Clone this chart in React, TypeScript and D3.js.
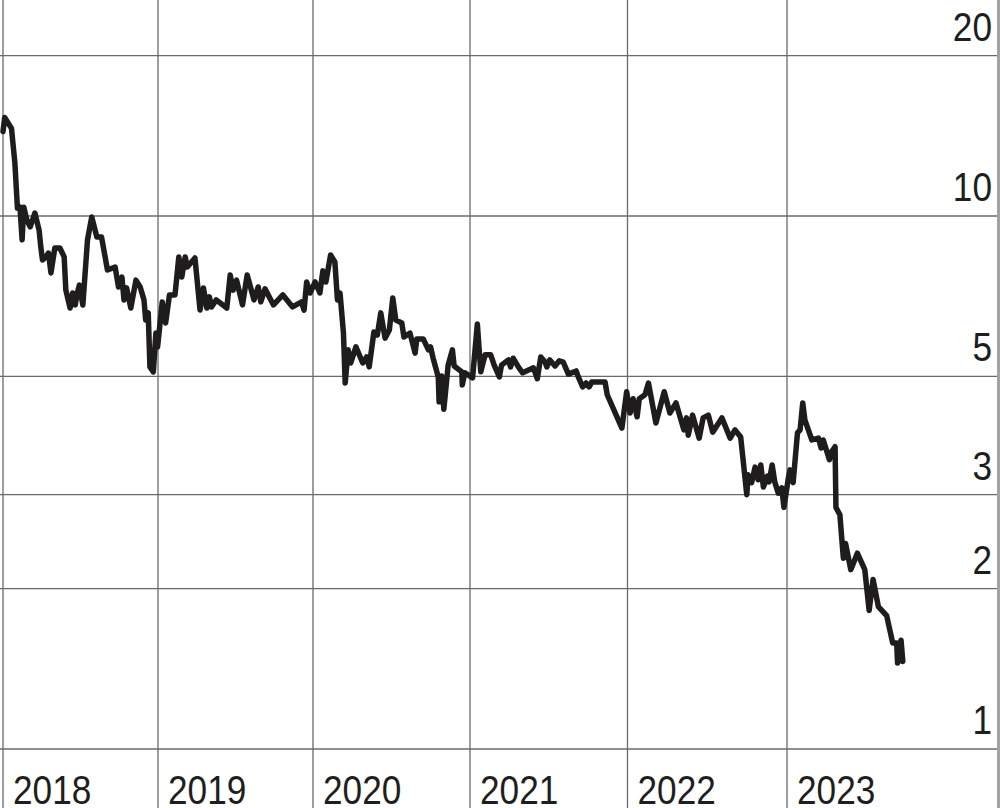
import React from 'react';
import * as d3 from 'd3';

const yearTicks = [2018, 2019, 2020, 2021, 2022, 2023, 2024];
const yearLabels = ['2018', '2019', '2020', '2021', '2022', '2023'];
const valueTicks = [1, 2, 3, 5, 10, 20];

const dates = [
  '2018-01-01','2018-01-05','2018-01-21','2018-01-29','2018-02-04','2018-02-10','2018-02-15','2018-02-19','2018-02-26','2018-03-06','2018-03-17','2018-03-27','2018-03-31','2018-04-04','2018-04-12','2018-04-18','2018-04-24','2018-05-03','2018-05-15','2018-05-25','2018-05-29','2018-06-08','2018-06-14','2018-06-20','2018-06-25','2018-06-30','2018-07-08','2018-07-19','2018-07-29','2018-08-10','2018-08-21','2018-09-04','2018-09-22','2018-09-30','2018-10-08','2018-10-13','2018-10-19','2018-10-29','2018-11-10','2018-11-20','2018-11-29','2018-12-03','2018-12-09','2018-12-13','2018-12-21','2018-12-27','2018-12-31',
  '2019-01-11','2019-01-19','2019-01-28','2019-02-10','2019-02-19','2019-02-26','2019-03-06','2019-03-11','2019-03-29','2019-04-10','2019-04-18','2019-04-26','2019-05-02','2019-05-07','2019-05-18','2019-06-12','2019-06-20','2019-06-27','2019-07-05','2019-07-19','2019-07-30','2019-08-15','2019-08-25','2019-08-31','2019-09-10','2019-09-30','2019-10-22','2019-11-14','2019-12-05','2019-12-11','2019-12-17','2019-12-25',
  '2020-01-06','2020-01-17','2020-01-24','2020-01-31','2020-02-11','2020-02-21','2020-02-27','2020-03-04','2020-03-12','2020-03-16','2020-03-23','2020-03-29','2020-04-10','2020-04-26','2020-05-05','2020-05-11','2020-05-22','2020-05-30','2020-06-07','2020-06-17','2020-06-27','2020-07-05','2020-07-12','2020-07-26','2020-07-31','2020-08-14','2020-08-26','2020-08-30','2020-09-14','2020-09-26','2020-10-01','2020-10-07','2020-10-19','2020-10-21','2020-10-27','2020-11-01','2020-11-11','2020-11-21','2020-11-25','2020-12-13','2020-12-14','2020-12-20',
  '2021-01-07','2021-01-18','2021-01-26','2021-02-05','2021-02-18','2021-02-26','2021-03-10','2021-03-15','2021-03-31','2021-04-05','2021-04-11','2021-04-23','2021-05-03','2021-05-28','2021-06-06','2021-06-14','2021-06-24','2021-06-28','2021-07-05','2021-07-17','2021-07-27','2021-08-05','2021-08-17','2021-09-04','2021-09-09','2021-09-19','2021-09-27','2021-10-04','2021-10-10','2021-11-10','2021-11-15','2021-12-19','2021-12-30',
  '2022-01-07','2022-01-14','2022-01-23','2022-01-28','2022-02-10','2022-02-18','2022-03-07','2022-03-26','2022-04-08','2022-04-22','2022-05-10','2022-05-16','2022-05-20','2022-05-30','2022-06-14','2022-06-23','2022-07-05','2022-07-15','2022-08-05','2022-08-24','2022-09-04','2022-09-17','2022-10-01','2022-10-04','2022-10-12','2022-10-20','2022-10-27','2022-11-02','2022-11-08','2022-11-17','2022-11-21','2022-11-28','2022-12-04','2022-12-12','2022-12-20','2022-12-25',
  '2023-01-04','2023-01-08','2023-01-15','2023-01-25','2023-01-31','2023-02-06','2023-02-11','2023-02-27','2023-03-14','2023-03-20','2023-03-25','2023-04-08','2023-04-13','2023-04-21','2023-04-23','2023-05-02','2023-05-10','2023-05-15','2023-05-27','2023-06-11','2023-06-28','2023-07-08','2023-07-17','2023-07-29','2023-08-17','2023-08-31','2023-09-09','2023-09-11','2023-09-19','2023-09-23',
];

const prices = [
  14.4,15.3,14.6,12.57,10.35,10.39,9.02,10.39,9.83,9.54,10.13,9.41,8.75,8.27,8.38,8.52,7.82,8.71,8.71,8.38,7.26,6.72,7.17,6.81,7.17,7.42,6.81,9.02,9.96,9.13,9.13,7.92,8.02,7.36,7.68,6.96,7.33,6.72,7.58,7.36,6.96,6.38,6.58,5.21,5.10,6.03,5.68,
  6.90,6.30,7.11,7.11,8.38,7.68,8.38,8.02,8.34,6.66,7.33,6.72,7.05,6.75,6.96,6.72,7.75,7.26,7.58,6.81,7.75,6.96,7.36,6.90,7.30,6.81,7.11,6.75,6.90,6.66,7.52,7.17,
  7.52,7.17,7.89,7.52,8.45,8.20,6.96,7.17,6.03,4.86,5.61,5.30,5.68,5.30,5.44,5.21,6.06,5.98,6.58,5.90,6.11,7.02,6.38,6.30,5.93,6.03,5.53,5.88,5.88,5.61,5.68,5.41,4.99,4.48,5.01,4.34,5.25,5.61,5.23,5.10,4.82,5.08,
  4.97,6.27,5.10,5.49,5.49,5.25,4.99,5.25,5.37,5.21,5.41,5.21,5.08,5.19,4.95,5.44,5.32,5.21,5.37,5.23,5.35,5.32,5.05,5.12,4.99,4.78,4.86,4.78,4.88,4.88,4.62,4.00,4.68,
  4.27,4.54,4.20,4.54,4.62,4.86,4.09,4.68,4.27,4.46,3.97,4.18,3.88,4.23,3.83,4.18,4.23,3.93,4.18,3.83,3.97,3.85,3.00,3.27,3.16,3.38,3.20,3.41,3.10,3.25,3.17,3.41,3.17,3.02,3.09,2.84,
  3.22,3.34,3.16,3.92,3.97,4.46,4.14,3.80,3.83,3.67,3.80,3.49,3.61,3.69,2.84,2.75,2.28,2.43,2.17,2.33,2.17,1.82,2.08,1.85,1.78,1.58,1.58,1.45,1.60,1.46,
];

const W = 1000;
const H = 808;
const FONT = "'Liberation Sans', Arial, sans-serif";
const SX = 0.88;

export default function App() {
  const parse = d3.timeParse('%Y-%m-%d');
  const data: [Date, number][] = dates.map((d, i) => [parse(d) as Date, prices[i]]);

  const x = d3
    .scaleTime()
    .domain(yearTicks.map((yy) => new Date(yy, 0, 1)))
    .range([3, 158, 313, 470, 627.5, 787, 946.5]);
  const y = d3.scaleLog().domain([1, 10]).range([749, 216]);

  const line = d3
    .line<[Date, number]>()
    .x((d) => x(d[0]))
    .y((d) => y(d[1]));

  const gridColor = '#6a6a6a';

  return (
    <svg
      width={W}
      height={H}
      viewBox={`0 0 ${W} ${H}`}
      style={{ position: 'absolute', left: 0, top: 0, background: '#fff', display: 'block' }}
    >
      <rect x={0} y={0} width={W} height={H} fill="#fff" />
      {valueTicks.map((v) => (
        <line key={'h' + v} x1={0} x2={997} y1={y(v)} y2={y(v)} stroke={gridColor} strokeWidth={1.3} />
      ))}
      {yearLabels.map((yl) => {
        const xx = x(new Date(+yl, 0, 1));
        return <line key={'v' + yl} x1={xx} x2={xx} y1={0} y2={H} stroke={gridColor} strokeWidth={1.3} />;
      })}
      <line x1={998.5} x2={998.5} y1={0} y2={H} stroke="#a3a3a3" strokeWidth={3} />
      {valueTicks.map((v) => (
        <text
          key={'t' + v}
          transform={`translate(992,${y(v) - 15}) scale(${SX},1)`}
          textAnchor="end"
          fontFamily={FONT}
          fontSize={40}
          fill="#1e1e1e"
        >
          {String(v)}
        </text>
      ))}
      {yearLabels.map((yl) => (
        <text
          key={'l' + yl}
          transform={`translate(${x(new Date(+yl, 0, 1)) + 10},804) scale(${SX},1)`}
          fontFamily={FONT}
          fontSize={40}
          fill="#1e1e1e"
        >
          {yl}
        </text>
      ))}
      <path
        d={line(data) || ''}
        fill="none"
        stroke="#1f1c1d"
        strokeWidth={5.5}
        strokeLinejoin="round"
        strokeLinecap="round"
      />
    </svg>
  );
}
